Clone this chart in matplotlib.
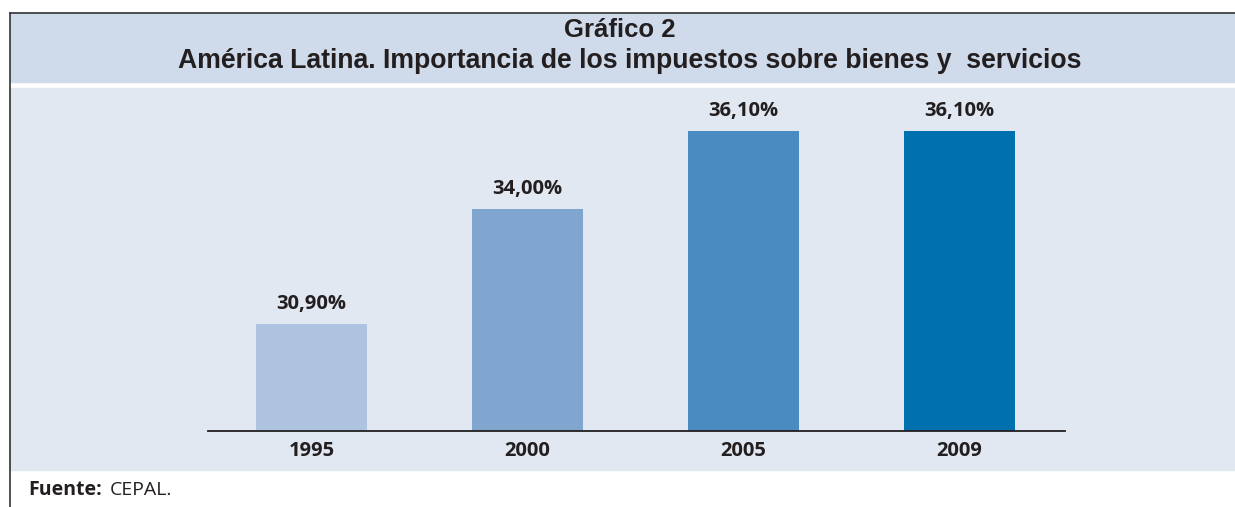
import matplotlib.pyplot as plt
from matplotlib.patches import Rectangle
from matplotlib.lines import Line2D

# datos
years = ['1995', '2000', '2005', '2009']
shares = [30.9, 34.0, 36.1, 36.1]
labels = ['30,90%', '34,00%', '36,10%', '36,10%']
colors = ['#adc3e0', '#80a6cf', '#4a8bc1', '#0070af']

W, H = 1235, 507
fig = plt.figure(figsize=(W / 100, H / 100), dpi=100)

def fx(px):
    return px / W

def fy(py):
    return 1 - py / H

# fondos del cuadro
fig.patches.append(Rectangle((fx(10), fy(82)), fx(W - 10), 69 / H,
                             transform=fig.transFigure, color='#cfdbeb', zorder=-10))
fig.patches.append(Rectangle((fx(10), fy(470)), fx(W - 10), 382 / H,
                             transform=fig.transFigure, color='#e1e8f2', zorder=-10))
fig.lines.append(Line2D([fx(10), 1], [fy(13), fy(13)], transform=fig.transFigure,
                        color='#333333', lw=1.2))
fig.lines.append(Line2D([fx(10), fx(10)], [fy(13), 0], transform=fig.transFigure,
                        color='#333333', lw=1.2))

fig.text(fx(620), fy(30), 'Gráfico 2', ha='center', va='center',
         family='Liberation Sans', weight='bold', fontsize=18.5, color='#231f20')
fig.text(fx(630), fy(61), 'América Latina. Importancia de los impuestos sobre bienes y  servicios',
         ha='center', va='center', family='Liberation Sans', weight='bold',
         fontsize=19.2, color='#231f20')

ax = fig.add_axes([fx(208), 76 / H, 857 / W, 343 / H], zorder=1)
ax.patch.set_visible(False)
x = list(range(len(years)))
ax.bar(x, shares, width=0.515, color=colors, zorder=2)
for xi, v, lab in zip(x, shares, labels):
    ax.annotate(lab, (xi, v), xytext=(0, 7), textcoords='offset points',
                ha='center', va='bottom', family='Open Sans', weight='bold',
                fontsize=14.5, color='#231f20')

ax.set_ylim(28, 37.26)
ax.set_xlim(-0.48, 3.49)
for s in ['top', 'right', 'left']:
    ax.spines[s].set_visible(False)
ax.spines['bottom'].set_color('#231f20')
ax.spines['bottom'].set_linewidth(1.3)
ax.set_yticks([])
ax.set_xticks(x)
ax.set_xticklabels(years, family='Open Sans', weight='bold', fontsize=14.5, color='#231f20')
ax.tick_params(axis='x', length=0, pad=7)

fig.text(fx(28), fy(490), 'Fuente:', ha='left', va='center', family='Open Sans',
         weight='bold', fontsize=14, color='#231f20')
fig.text(fx(110), fy(490), 'CEPAL.', ha='left', va='center', family='Open Sans',
         fontsize=14, color='#231f20')

fig.savefig('out.png', dpi=100)
